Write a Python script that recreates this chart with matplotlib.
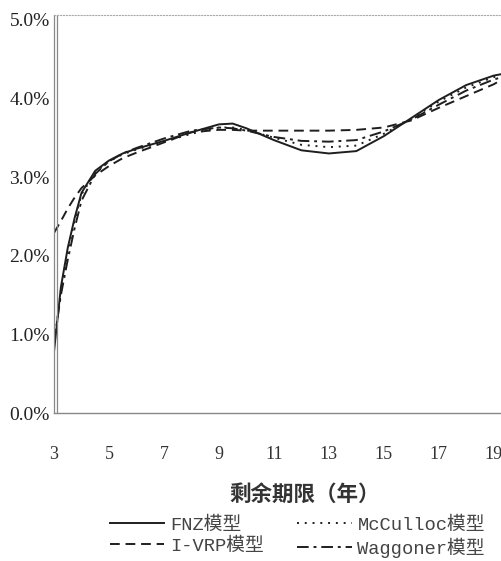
import matplotlib
matplotlib.use("Agg")
import matplotlib.pyplot as plt
import matplotlib.transforms as mtransforms
from matplotlib.lines import Line2D

# remaining term (years) and fitted yields (%)
years = [3, 3.25, 3.5, 3.75, 4, 4.5, 5, 5.5, 6, 7, 8, 9, 9.5, 10, 11, 12, 13, 14, 15, 16, 17, 18, 19, 19.3]
fnz = [0.78, 1.60, 2.10, 2.48, 2.80, 3.08, 3.21, 3.30, 3.36, 3.46, 3.57, 3.67, 3.68, 3.62, 3.47, 3.34, 3.30, 3.33, 3.52, 3.75, 3.98, 4.17, 4.29, 4.31]
mcculloc = [0.85, 1.55, 2.05, 2.45, 2.78, 3.06, 3.20, 3.29, 3.35, 3.45, 3.55, 3.63, 3.63, 3.60, 3.50, 3.41, 3.38, 3.40, 3.55, 3.74, 3.96, 4.14, 4.27, 4.30]
ivrp = [2.29, 2.44, 2.60, 2.74, 2.86, 3.02, 3.14, 3.24, 3.31, 3.44, 3.57, 3.60, 3.60, 3.59, 3.59, 3.59, 3.59, 3.60, 3.63, 3.72, 3.88, 4.03, 4.18, 4.24]
waggoner = [0.90, 1.50, 1.95, 2.35, 2.70, 3.04, 3.20, 3.30, 3.37, 3.49, 3.59, 3.63, 3.62, 3.59, 3.51, 3.46, 3.45, 3.47, 3.58, 3.73, 3.92, 4.10, 4.24, 4.27]

xticks = [3, 5, 7, 9, 11, 13, 15, 17, 19]
yticks = [0, 1, 2, 3, 4, 5]
labels = ["FNZ模型", "I-VRP模型", "McCulloc模型", "Waggoner模型"]

serif = ["Liberation Serif", "Noto Sans CJK SC"]
mono = ["Liberation Mono", "Noto Sans CJK SC"]

fig = plt.figure(figsize=(5.02, 5.61), dpi=100)
ax = fig.add_axes([0.1076, 0.2638, 0.8924, 0.7094])

c = "#1e1e1e"
styles = [
    (fnz, "-"),
    (ivrp, (0, (5, 3))),
    (mcculloc, (0, (1, 3))),
    (waggoner, (0, (6, 2.5, 1.5, 2.5))),
]
handles = []
for vals, ls in styles:
    ax.plot(years, vals, color=c, lw=1.4, linestyle=ls)
    handles.append(Line2D([], [], color=c, lw=1.4, linestyle=ls))

ax.set_xlim(3, 19.3)
ax.set_ylim(0, 5.06)
ax.set_xticks(xticks)
ax.set_yticks(yticks)
ax.set_xticklabels([str(t) for t in xticks], family=serif, fontsize=13, color="#333")
ax.set_yticklabels(["%.1f%%" % t for t in yticks], family=serif, fontsize=14, color="#222")
ax.tick_params(axis="x", length=0, pad=24)
ax.tick_params(axis="y", length=0, pad=3)

# left border is a double grey line
ax.spines["left"].set_color("#888")
ax.spines["left"].set_linewidth(0.9)
shift = mtransforms.offset_copy(ax.transAxes, fig=fig, x=3, y=0, units="dots")
ax.plot([0, 0], [0, 1], transform=shift, color="#888", lw=0.9, clip_on=False)
ax.spines["bottom"].set_color("#888")
ax.spines["bottom"].set_linewidth(1.0)
ax.spines["top"].set_color("#aaa")
ax.spines["top"].set_linewidth(0.8)
ax.spines["top"].set_linestyle(":")
ax.spines["right"].set_visible(False)

ax.set_xlabel("剩余期限（年）", family=["Noto Sans CJK SC"], fontweight="bold",
              fontsize=15.5, color="#333")
ax.xaxis.set_label_coords(0.56, -0.178)

fig.legend(handles, labels, loc="upper left", bbox_to_anchor=(0.219, 0.079),
           ncol=2, frameon=False, handlelength=2.9, handletextpad=0.3,
           columnspacing=1.8, labelspacing=0.2, borderaxespad=0, borderpad=0,
           prop={"family": mono, "size": 13.5}, labelcolor="#444")

fig.savefig("out.png", dpi=100)
